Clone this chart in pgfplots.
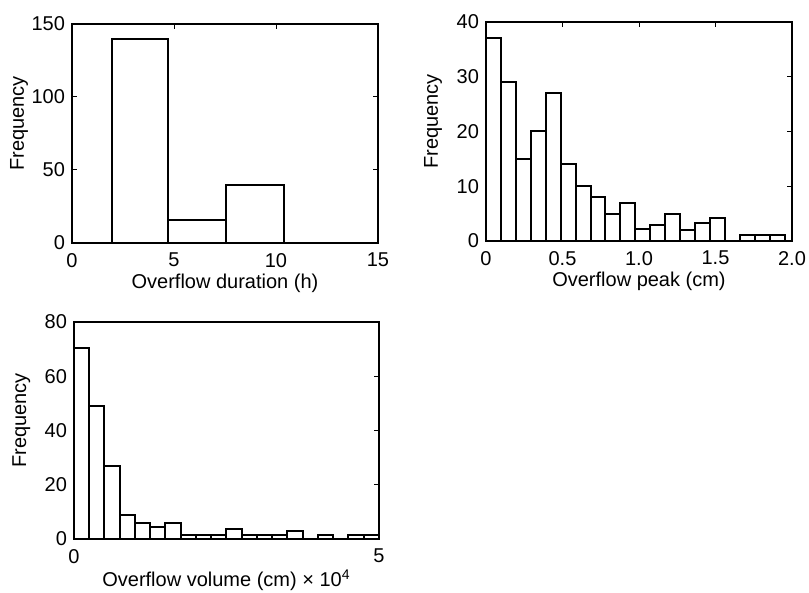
\documentclass[border=0pt]{standalone}
\usepackage{fontspec}
\setmainfont{Liberation Sans}
\usepackage{pgfplots}
\pgfplotsset{compat=1.18}

% shared look of the three histograms
\pgfplotsset{
  hist/.style={
    scale only axis,
    anchor=south west,
    ymin=0,
    axis line style={line width=0.6pt},
    tick style={black, line width=0.5pt},
    major tick length=2.5pt,
    /pgf/number format/assume math mode=true,
    tick label style={font=\fontsize{10}{12}\selectfont},
    label style={font=\fontsize{10}{12}\selectfont},
    xticklabel style={yshift=-1.5pt},
    xlabel style={yshift=3.5pt},
    ylabel={Frequency},
    ylabel style={at={(axis description cs:-0.173,0.546)}, anchor=center},
  },
  bars/.style={ybar interval, draw=none, fill=white},
  edges/.style={ybar interval, draw=black, fill=none, line width=1pt},
}

\begin{document}
\begin{tikzpicture}
\useasboundingbox (0,0) rectangle (404.5pt,296.5pt);

% --- overflow duration ---
\pgfplotstableread{
x y
1.95 140
4.7 16
7.55 40
10.4 40
}\duration
\begin{axis}[hist,
  at={(36pt,175pt)}, width=153pt, height=109.5pt,
  xmin=0, xmax=15, ymax=150,
  xtick={0,5,10,15}, ytick={0,50,100,150},
  xlabel={Overflow duration (h)},
]
\addplot[bars] table {\duration};
\addplot[edges] table {\duration};
\end{axis}

% --- overflow peak ---
\pgfplotstableread{
x y
0 37
0.0976 29
0.1952 15
0.2928 20
0.3904 27
0.488 14
0.5856 10
0.6832 8
0.7808 5
0.8784 7
0.976 2.2
1.0736 2.9
1.1712 5
1.2688 2
1.3664 3.3
1.464 4.2
1.5616 0
1.6592 1.1
1.7568 1.1
1.8544 1.1
1.952 1.1
}\peak
\begin{axis}[hist,
  at={(243pt,176pt)}, width=153pt, height=109.5pt,
  xmin=0, xmax=2, ymax=40,
  xtick={0,0.5,1,1.5,2}, xticklabels={0,0.5,1.0,1.5,2.0},
  ytick={0,10,20,30,40},
  xlabel={Overflow peak (cm)},
]
\addplot[bars] table {\peak};
\addplot[edges] table {\peak};
\end{axis}

% --- overflow volume ---
\pgfplotstableread{
x y
0 70.5
0.25 49
0.5 27
0.75 9
1 6
1.25 4.5
1.5 6
1.75 1.6
2 1.6
2.25 1.6
2.5 3.6
2.75 1.6
3 1.6
3.25 1.6
3.5 3
3.75 0
4 1.6
4.25 0
4.5 1.6
4.75 1.6
5 1.6
}\volume
\begin{axis}[hist,
  at={(37pt,27pt)}, width=152.5pt, height=108.5pt,
  xmin=0, xmax=5, ymax=80,
  xtick={0,5}, ytick={0,20,40,60,80},
  xlabel={Overflow volume (cm) × 10\textsuperscript{4}},
]
\addplot[bars] table {\volume};
\addplot[edges] table {\volume};
\end{axis}
\end{tikzpicture}
\end{document}
